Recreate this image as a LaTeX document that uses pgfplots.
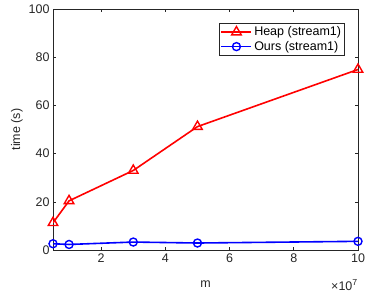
\documentclass[border=0pt]{standalone}
\usepackage{fontspec}
\setmainfont{Liberation Sans}
\usepackage{pgfplots}
\pgfplotsset{compat=1.18}
\definecolor{axgray}{gray}{0.15}
\begin{document}
\begin{tikzpicture}
\begin{axis}[name=ax, scale only axis, width=305pt, height=241pt,
  xmin=0.5, xmax=10, ymin=0, ymax=100,
  xtick={2,4,6,8,10}, ytick={0,20,40,60,80,100},
  tick align=inside, major tick length=3pt,
  axis line style={axgray, line width=0.6pt},
  every tick/.style={axgray, line width=0.6pt},
  tick label style={font=\fontsize{12.5}{15}\selectfont, text=axgray},
  /pgf/number format/assume math mode=true,
  xlabel={m}, ylabel={time (s)},
  label style={font=\fontsize{12.5}{15}\selectfont, text=axgray},
  xlabel style={at={(axis description cs:0.5,-0.143)}, anchor=center},
  ylabel style={at={(axis description cs:-0.118,0.5)}, anchor=center},
  legend style={at={(0.957,0.942)}, anchor=north east, draw=axgray, line width=0.6pt,
    font=\fontsize{12.5}{15}\selectfont, inner sep=1.5pt, row sep=0pt},
  legend cell align=left,
  legend image code/.code={\draw[mark repeat=2, mark phase=2, #1] plot coordinates {(0pt,0pt) (15pt,0pt) (30pt,0pt)};},
]
\addplot[red, line width=1.6pt, mark=triangle, mark size=5.5pt, mark options={line width=1.4pt, fill=none}] coordinates {
  (0.5,11.3) (1,20.4) (3,33.0) (5,51.2) (10,74.9)};
\addlegendentry{Heap (stream1)}
\addplot[blue, line width=1.6pt, mark=o, mark size=4pt, mark options={line width=1.4pt}] coordinates {
  (0.5,2.6) (1,2.3) (3,3.3) (5,2.9) (10,3.6)};
\addlegendentry{Ours (stream1)}
\end{axis}
\node[anchor=east, text=axgray, font=\fontsize{12.5}{15}\selectfont, inner sep=0pt] at ([yshift=-35pt]ax.south east) {×10\textsuperscript{7}};
\pgfresetboundingbox
\path[use as bounding box] ([shift={(-53pt,-45pt)}]ax.south west) rectangle ([shift={(9pt,9pt)}]ax.north east);
\end{tikzpicture}
\end{document}
